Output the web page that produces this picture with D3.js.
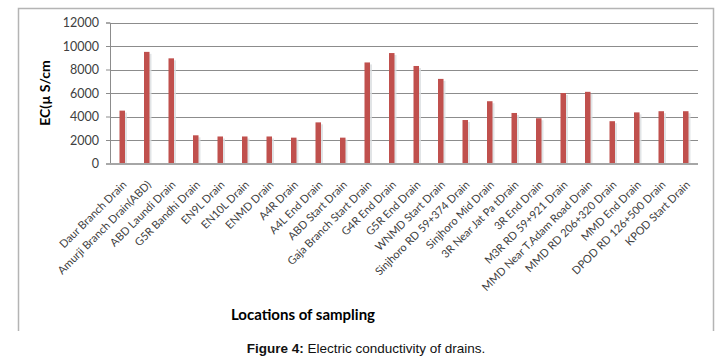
<!DOCTYPE html>
<html>
<head>
<meta charset="utf-8">
<script src="https://cdn.jsdelivr.net/npm/d3@7"></script>
<style>
  body { margin: 0; background: #fff; }
  svg { display: block; }
</style>
</head>
<body>
<div id="chart"></div>
<script>
const locations = ["Daur Branch Drain", "Amurji Branch Drain(ABD)", "ABD Laundi Drain", "G5R Bandhi Drain",
    "EN9L Drain", "EN10L Drain", "ENMD Drain", "A4R Drain", "A4L End Drain", "ABD Start Drain",
    "Gaja Branch Start Drain", "G4R End Drain", "G5R End Drain", "WNMD Start Drain",
    "Sinjhoro RD 59+374 Drain", "Sinjhoro Mid Drain", "3R Near Jat Pa tDrain", "3R End Drain",
    "M3R RD 59+921 Drain", "MMD Near T.Adam Road Drain", "MMD RD 206+320 Drain", "MMD End Drain",
    "DPOD RD 126+500 Drain", "KPOD Start Drain"];
const ecValues = [4500, 9500, 8950, 2400, 2300, 2300, 2300, 2200, 3500, 2200,
    8600, 9400, 8300, 7200, 3700, 5300, 4300, 3850, 6000, 6100, 3600, 4350, 4450, 4450];
const yTicks = [0, 2000, 4000, 6000, 8000, 10000, 12000];

var width = 722, height = 362;
var margin = {top: 22.5, left: 110, right: 24, bottom: 198.5};

var svg = d3.select("#chart").append("svg")
    .attr("width", width)
    .attr("height", height);

// frame (bottom edge is cut off in the figure)
svg.append("path")
    .attr("d", "M18.5,331 V8.5 H713.5 V331")
    .attr("fill", "none")
    .attr("stroke", "#b4b4b4")
    .attr("stroke-width", 1.5);

var xScale = d3.scaleBand()
    .domain(locations)
    .range([margin.left, width - margin.right]);

var yScale = d3.scaleLinear()
    .domain([0, 12000])
    .range([height - margin.bottom, margin.top]);

// gridlines
svg.append("g")
    .selectAll("line")
    .data(yTicks.slice(1))
    .enter()
    .append("line")
    .attr("x1", margin.left)
    .attr("x2", width - margin.right)
    .attr("y1", d => Math.round(yScale(d)) + 0.5)
    .attr("y2", d => Math.round(yScale(d)) + 0.5)
    .attr("stroke", "#8c8c8c")
    .attr("stroke-width", 1);

// y axis
var yAxis = svg.append("g")
    .attr("transform", `translate(${margin.left},0)`)
    .call(d3.axisLeft(yScale).tickValues(yTicks).tickSize(4).tickPadding(7).tickFormat(d3.format("d")));
yAxis.select(".domain").attr("stroke", "#8c8c8c");
yAxis.selectAll(".tick line").attr("stroke", "#8c8c8c");
yAxis.selectAll("text")
    .attr("fill", "#404040")
    .style("font-family", "Lato, 'Open Sans', sans-serif")
    .style("font-size", "12.5px");

// bar shadows
var bw = 5.5;
svg.append("g")
    .selectAll("rect")
    .data(ecValues)
    .enter()
    .append("rect")
    .attr("x", (d, i) => xScale(locations[i]) + xScale.bandwidth() / 2 - bw / 2 + 2)
    .attr("y", d => yScale(d) + 2)
    .attr("width", bw)
    .attr("height", d => yScale(0) - yScale(d) - 2)
    .attr("fill", "#d9dde0")
    .attr("opacity", 0.8);

// bars
svg.append("g")
    .selectAll("rect")
    .data(ecValues)
    .enter()
    .append("rect")
    .attr("x", (d, i) => xScale(locations[i]) + xScale.bandwidth() / 2 - bw / 2)
    .attr("y", d => yScale(d))
    .attr("width", bw)
    .attr("height", d => yScale(0) - yScale(d))
    .attr("fill", "#c0504d");

// x axis baseline
svg.append("line")
    .attr("x1", margin.left)
    .attr("x2", width - margin.right)
    .attr("y1", yScale(0) + 0.5)
    .attr("y2", yScale(0) + 0.5)
    .attr("stroke", "#a6a6a6")
    .attr("stroke-width", 2);

// category labels, rotated
svg.append("g")
    .selectAll("text")
    .data(locations)
    .enter()
    .append("text")
    .attr("transform", d => `translate(${xScale(d) + xScale.bandwidth() / 2 + 5},${yScale(0) + 22}) rotate(-45)`)
    .attr("text-anchor", "end")
    .attr("fill", "#404040")
    .style("font-family", "Lato, 'Open Sans', sans-serif")
    .style("font-size", "11px")
    .text(d => d);

// axis titles
svg.append("text")
    .attr("transform", "translate(50,93) rotate(-90)")
    .attr("text-anchor", "middle")
    .style("font-family", "Lato, 'Open Sans', sans-serif")
    .style("font-size", "14px")
    .style("font-weight", "bold")
    .text("EC(\u00b5 S/cm");

svg.append("text")
    .attr("x", 303)
    .attr("y", 320)
    .attr("text-anchor", "middle")
    .style("font-family", "Lato, 'Open Sans', sans-serif")
    .style("font-size", "15px")
    .style("font-weight", "bold")
    .text("Locations of sampling");

// caption
var cap = svg.append("text")
    .attr("x", 366)
    .attr("y", 353)
    .attr("text-anchor", "middle")
    .style("font-family", "'Liberation Sans', Arial, sans-serif")
    .style("font-size", "13.5px")
    .attr("fill", "#111");
cap.append("tspan").style("font-weight", "bold").text("Figure 4:");
cap.append("tspan").text(" Electric conductivity of drains.");
</script>
</body>
</html>
